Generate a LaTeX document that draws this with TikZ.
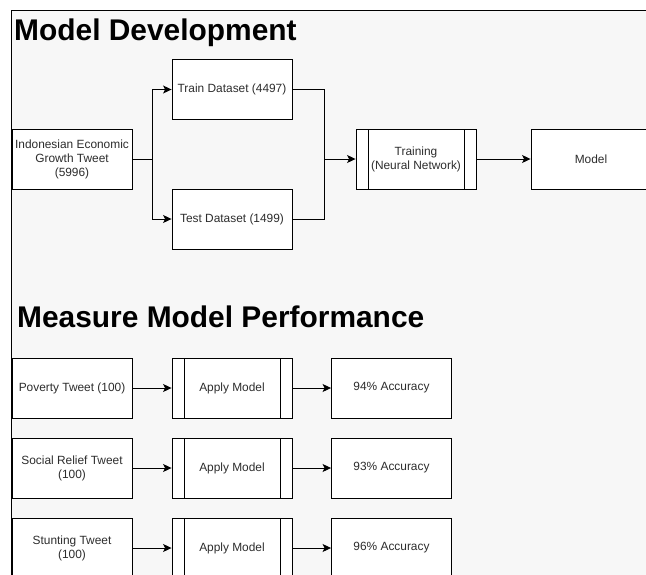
\documentclass[tikz,border=0pt]{standalone}
\usepackage{fontspec}
\setmainfont{Liberation Sans}
\usetikzlibrary{arrows.meta}
\definecolor{bggray}{RGB}{247,247,247}
\definecolor{txt}{RGB}{45,45,45}
\tikzset{
  box/.style={draw=black, line width=0.9pt, fill=white, minimum width=120pt, minimum height=60pt,
    inner sep=0pt, align=center, text=txt, font=\fontsize{11.9}{14}\selectfont},
  proc/.style={box, path picture={
      \draw[line width=0.9pt] ([xshift=12pt]path picture bounding box.north west) -- ([xshift=12pt]path picture bounding box.south west);
      \draw[line width=0.9pt] ([xshift=-12pt]path picture bounding box.north east) -- ([xshift=-12pt]path picture bounding box.south east);}},
  conn/.style={draw=black, line width=0.9pt},
  arr/.style={conn, -{Stealth[length=8.5pt,width=8pt,inset=2pt]}},
  title/.style={anchor=base west, inner sep=0pt, font=\fontsize{29.9}{32}\selectfont\bfseries, text=black}
}
\begin{document}
\begin{tikzpicture}[x=1pt,y=-1pt]
\useasboundingbox (0,0) rectangle (646,574);
\clip (0,0) rectangle (646,574);
\fill[bggray] (11,10.5) rectangle (660,590);
\draw[line width=1pt, black] (11,590) -- (11,10.5) -- (660,10.5);

\node[title] (t1) at (14,40) {Model Development};
\node[title] (t2) at (17,327.5) {Measure Model Performance};

\node[box] (ind) at (72,159.5) {Indonesian Economic\\Growth Tweet\\(5996)};
\node[box] (train) at (232,89.5) {Train Dataset (4497)};
\node[box] (test) at (232,219) {Test Dataset (1499)};
\node[proc] (training) at (416,159) {Training\\(Neural Network)};
\node[box] (model) at (591,159) {Model};

\coordinate (split) at (152,159.5);
\coordinate (merge) at (324,159);
\draw[conn] (ind.east) -- (split);
\draw[arr] (split) |- (train.west);
\draw[arr] (split) |- (test.west);
\draw[conn] (train.east) -| (merge);
\draw[conn] (test.east) -| (merge);
\draw[arr] (merge) -- (training.west);
\draw[arr] (training.east) -- (model.west);

\node[box] (pov) at (72,388) {Poverty Tweet (100)};
\node[proc] (ap1) at (232,388) {Apply Model};
\node[box] (acc1) at (391.5,388) {94\% Accuracy};

\node[box] (soc) at (72,468) {Social Relief Tweet\\(100)};
\node[proc] (ap2) at (232,468) {Apply Model};
\node[box] (acc2) at (391.5,468) {93\% Accuracy};

\node[box] (stu) at (72,548) {Stunting Tweet\\(100)};
\node[proc] (ap3) at (232,548) {Apply Model};
\node[box] (acc3) at (391.5,548) {96\% Accuracy};

\draw[arr] (pov.east) -- (ap1.west);
\draw[arr] (ap1.east) -- (acc1.west);
\draw[arr] (soc.east) -- (ap2.west);
\draw[arr] (ap2.east) -- (acc2.west);
\draw[arr] (stu.east) -- (ap3.west);
\draw[arr] (ap3.east) -- (acc3.west);
\end{tikzpicture}
\end{document}
